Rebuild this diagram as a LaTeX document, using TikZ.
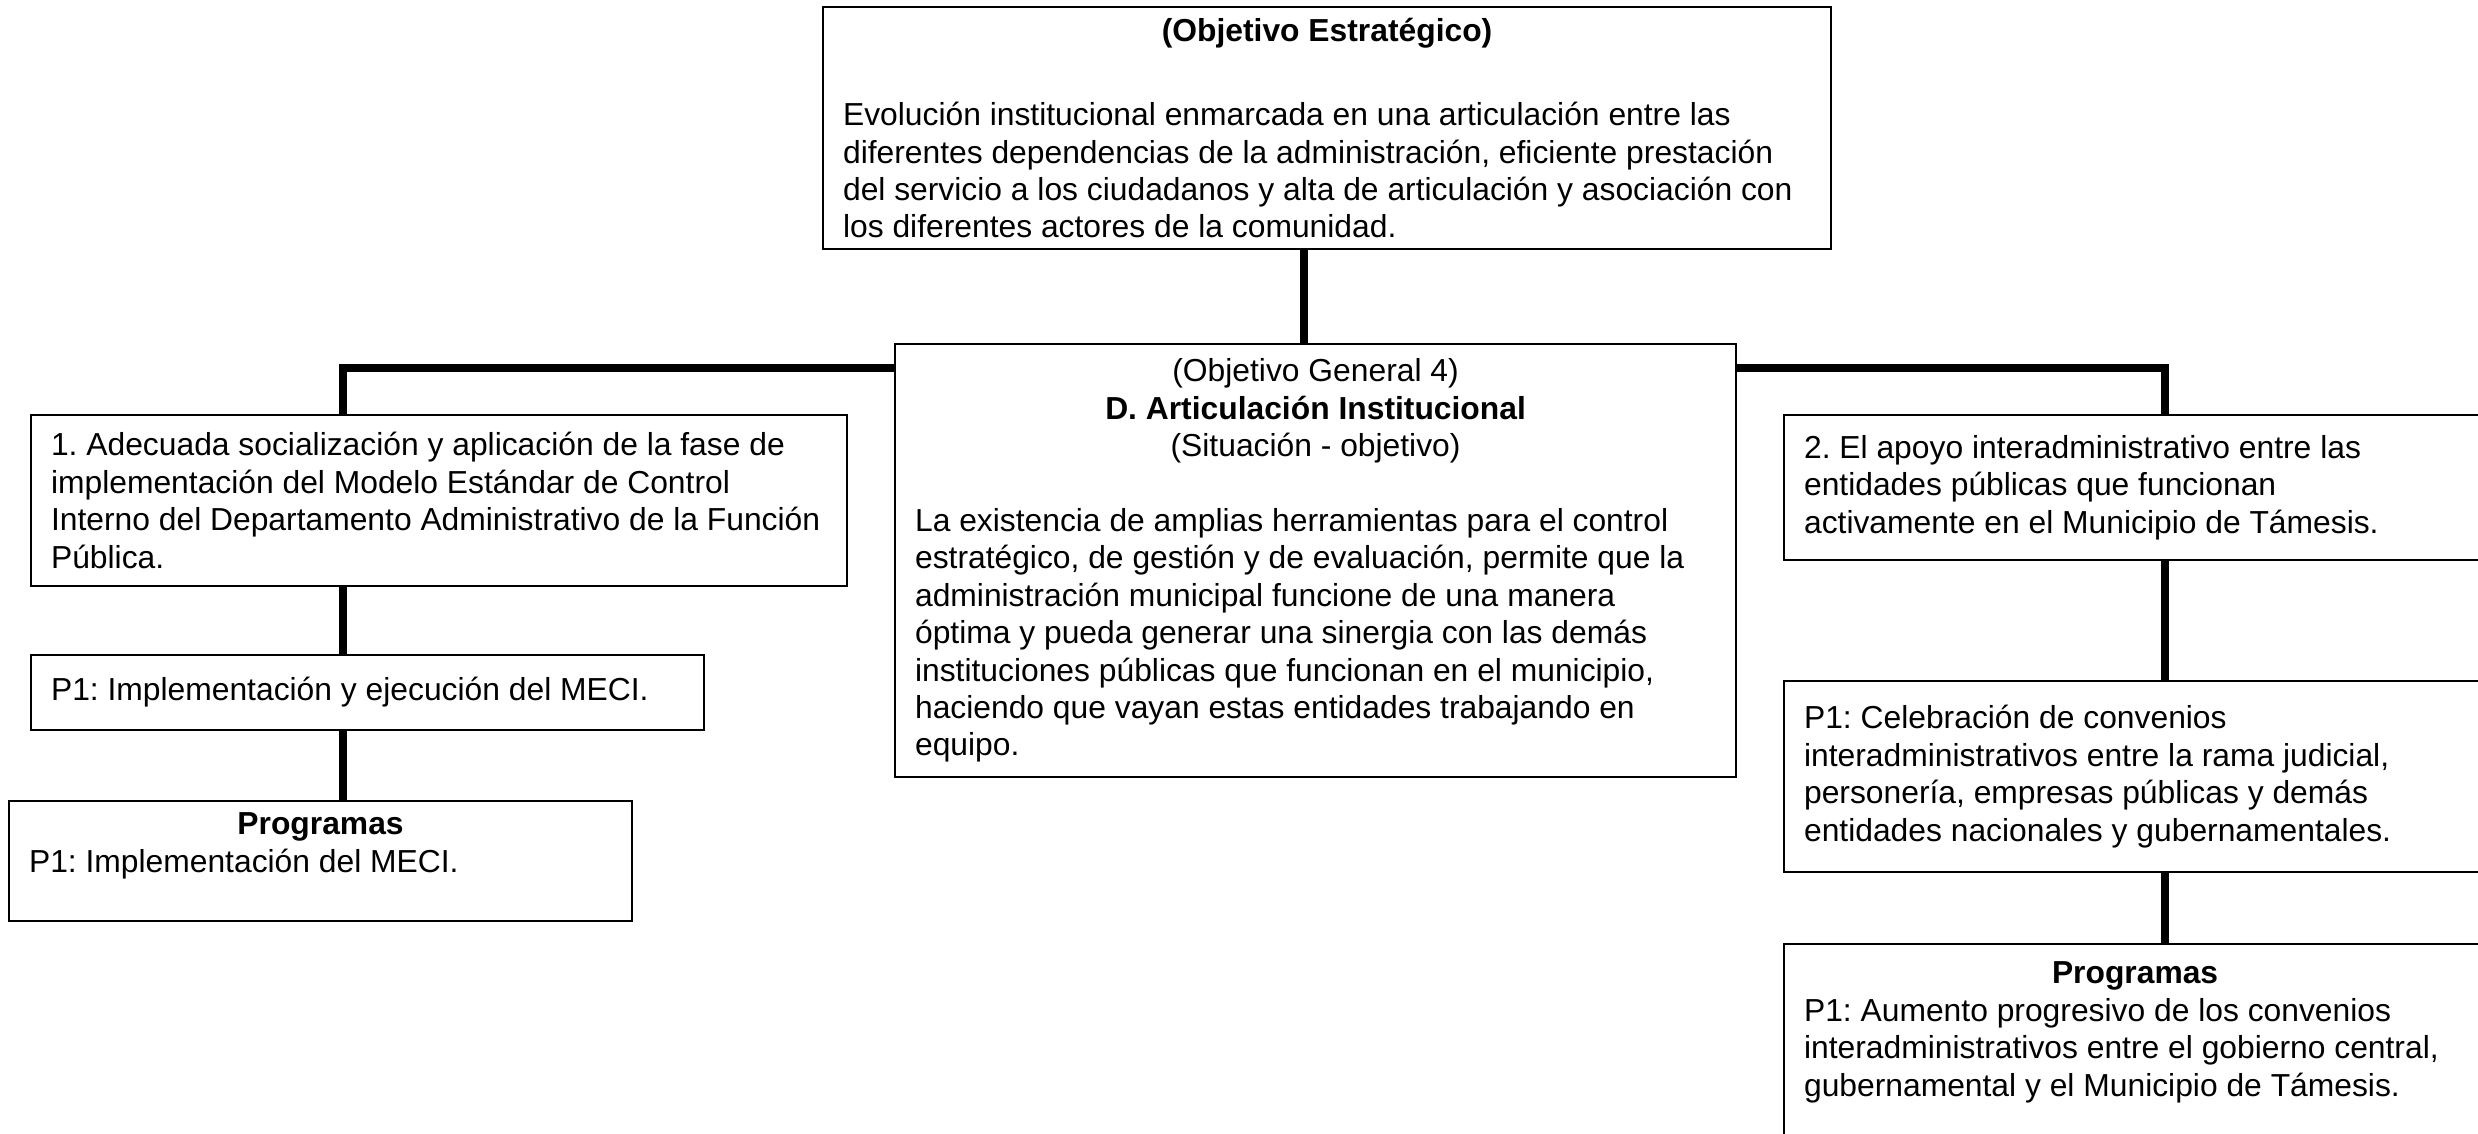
\documentclass[tikz,border=0pt]{standalone}
\usepackage{fontspec}
\setmainfont{Liberation Sans}
\usetikzlibrary{positioning,calc}
\frenchspacing

\begin{document}
\begin{tikzpicture}[
    caja/.style={draw, line width=0.6pt, fill=white, anchor=north west, align=flush left,
                 inner xsep=0.2cm, inner ysep=0.08cm, font=\fontsize{9.05}{10.65}\selectfont},
    enlace/.style={line width=2.4pt}
]
    \useasboundingbox (0,0) rectangle (24.78,-11.33);

    \node[caja, text width=9.68cm, minimum height=2.42cm] (estrategico) at (8.22,-0.06) {
        \makebox[\linewidth]{\textbf{(Objetivo Estratégico)}}\\[0.47cm]
        Evolución institucional enmarcada en una articulación entre las\\
        diferentes dependencias de la administración, eficiente prestación\\
        del servicio a los ciudadanos y alta de articulación y asociación con\\
        los diferentes actores de la comunidad.
    };

    \node[caja, text width=8.01cm, minimum height=4.33cm] (general) at (8.94,-3.43) {
        \makebox[\linewidth]{(Objetivo General 4)}\\
        \makebox[\linewidth]{\textbf{D. Articulación Institucional}}\\
        \makebox[\linewidth]{(Situación - objetivo)}\\
        \mbox{}\\
        La existencia de amplias herramientas para el control\\
        estratégico, de gestión y de evaluación, permite que la\\
        administración municipal funcione de una manera\\
        óptima y pueda generar una sinergia con las demás\\
        instituciones públicas que funcionan en el municipio,\\
        haciendo que vayan estas entidades trabajando en\\
        equipo.
    };

    % rama izquierda
    \node[caja, text width=7.76cm, minimum height=1.71cm] (res1) at (0.30,-4.14) {
        1. Adecuada socialización y aplicación de la fase de\\
        implementación del Modelo Estándar de Control\\
        Interno del Departamento Administrativo de la Función\\
        Pública.
    };
    \node[caja, text width=6.33cm, minimum height=0.75cm] (acc1) at (0.30,-6.54) {
        P1: Implementación y ejecución del MECI.
    };
    \node[caja, text width=5.83cm, minimum height=1.20cm] (prog1) at (0.08,-8.00) {
        \makebox[\linewidth]{\textbf{Programas}}\\
        P1: Implementación del MECI.\\
        \mbox{}
    };

    % rama derecha
    \node[caja, text width=6.62cm, minimum height=1.45cm] (res2) at (17.83,-4.14) {
        2. El apoyo interadministrativo entre las\\
        entidades públicas que funcionan\\
        activamente en el Municipio de Támesis.
    };
    \node[caja, text width=6.62cm, minimum height=1.91cm] (acc2) at (17.83,-6.80) {
        P1: Celebración de convenios\\
        interadministrativos entre la rama judicial,\\
        personería, empresas públicas y demás\\
        entidades nacionales y gubernamentales.
    };
    \node[caja, text width=6.62cm, minimum height=2.45cm] (prog2) at (17.83,-9.43) {
        \makebox[\linewidth]{\textbf{Programas}}\\
        P1: Aumento progresivo de los convenios\\
        interadministrativos entre el gobierno central,\\
        gubernamental y el Municipio de Támesis.\\
        \mbox{}\\
        \mbox{}
    };

    \coordinate (ejeI) at (3.43,-3.68);
    \coordinate (ejeD) at (21.65,-3.68);

    \draw[enlace] ([xshift=-0.23cm]estrategico.south) -- ([xshift=-0.23cm]estrategico.south |- general.north);
    \draw[enlace] ([yshift=-0.25cm]general.north west) -| (ejeI |- res1.north);
    \draw[enlace] (ejeI |- res1.south) -- (ejeI |- acc1.north);
    \draw[enlace] (ejeI |- acc1.south) -- (ejeI |- prog1.north);
    \draw[enlace] ([yshift=-0.25cm]general.north east) -| (ejeD |- res2.north);
    \draw[enlace] (ejeD |- res2.south) -- (ejeD |- acc2.north);
    \draw[enlace] (ejeD |- acc2.south) -- (ejeD |- prog2.north);
\end{tikzpicture}
\end{document}
